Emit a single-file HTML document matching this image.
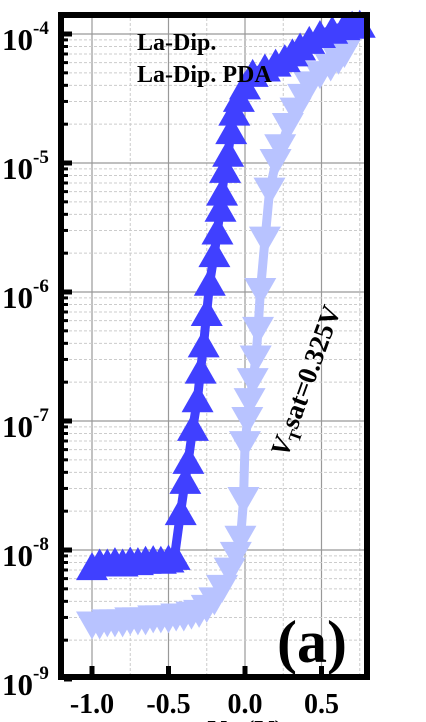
<!DOCTYPE html>
<html><head><meta charset="utf-8">
<style>
html,body{margin:0;padding:0;background:#fff;}
svg{display:block;font-family:"Liberation Serif",serif;font-weight:bold;}
</style></head>
<body>
<svg id="chart" width="426" height="722" viewBox="0 0 426 722" xmlns="http://www.w3.org/2000/svg">
<g id="grid"></g>
<g id="series"></g>
<rect x="61" y="15" width="306" height="662" fill="none" stroke="#000" stroke-width="6"/>
<g id="axes"></g>
<text x="137" y="50" font-size="24">La-Dip.</text>
<text x="137" y="82" font-size="24">La-Dip. PDA</text>
<text transform="translate(287,458) rotate(-70)" font-size="27"><tspan font-style="italic">V</tspan><tspan font-size="17" dy="6">T</tspan><tspan dy="-6">sat=0.325V</tspan></text>
<text x="277" y="662" font-size="60">(a)</text>
<text x="245" y="740" font-size="28" text-anchor="middle"><tspan font-style="italic">V</tspan><tspan font-size="17" dy="6">G</tspan><tspan dy="-6"> (V)</tspan></text>
</svg>
<script>
const xTicks=[-1.0,-0.5,0.0,0.5];
const xTickLabels=["-1.0","-0.5","0.0","0.5"];
const yDecades=[-4,-5,-6,-7,-8,-9];
const yTickLabels=["-4","-5","-6","-7","-8","-9"];
const vgBlue=[-1.0,-0.95,-0.9,-0.85,-0.8,-0.75,-0.7,-0.65,-0.6,-0.55,-0.5,-0.46,-0.42,-0.39,-0.37,-0.34,-0.31,-0.29,-0.27,-0.25,-0.23,-0.2,-0.18,-0.16,-0.15,-0.13,-0.11,-0.09,-0.07,-0.04,0.0,0.05,0.13,0.2,0.26,0.31,0.36,0.42,0.49,0.57,0.65,0.7,0.75];
const idBlue=[7.5e-9,8e-9,8e-9,8.2e-9,8e-9,8.3e-9,8.2e-9,8.4e-9,8.5e-9,8.4e-9,8.6e-9,9e-9,2e-8,3.5e-8,5e-8,9e-8,1.5e-7,2.5e-7,4e-7,7e-7,1.2e-6,2e-6,3e-6,4.5e-6,6e-6,9e-6,1.2e-5,1.8e-5,2.5e-5,3.2e-5,4e-5,5e-5,5.5e-5,6e-5,6.5e-5,7.2e-5,8e-5,9e-5,1e-4,1.08e-4,1.15e-4,1.18e-4,1.2e-4];
const vgLight=[-1.0,-0.95,-0.9,-0.85,-0.8,-0.75,-0.7,-0.65,-0.6,-0.55,-0.5,-0.45,-0.4,-0.35,-0.3,-0.25,-0.2,-0.15,-0.1,-0.06,-0.03,-0.01,0.0,0.015,0.03,0.05,0.07,0.085,0.1,0.13,0.16,0.2,0.23,0.28,0.33,0.38,0.42,0.49,0.56,0.61,0.65];
const idLight=[2.6e-9,2.6e-9,2.7e-9,2.7e-9,2.7e-9,2.8e-9,2.8e-9,2.8e-9,2.9e-9,2.9e-9,2.9e-9,3e-9,3e-9,3.1e-9,3.2e-9,3.5e-9,4e-9,5e-9,6.8e-9,9e-9,1.2e-8,2.4e-8,6.5e-8,1e-7,1.4e-7,2e-7,3e-7,5e-7,1e-6,2.5e-6,6e-6,1e-5,1.3e-5,1.9e-5,2.5e-5,3.2e-5,4e-5,4.8e-5,5.5e-5,6.2e-5,7e-5];

const NS="http://www.w3.org/2000/svg";
function X(v){return 92+(v+1)*153;}
function Y(i){return 34+(-4-Math.log10(i))*129;}
function YL(l){return 34+(-4-l)*129;}
function mk(tag,attrs,parent){const e=document.createElementNS(NS,tag);for(const k in attrs)e.setAttribute(k,attrs[k]);parent.appendChild(e);return e;}
const grid=document.getElementById('grid'),axes=document.getElementById('axes'),series=document.getElementById('series');
for(let v=-1.25;v<=0.76;v+=0.25){const x=X(v);if(x<64||x>364)continue;
 const major=xTicks.some(t=>Math.abs(t-v)<1e-6);
 const l=mk('line',{x1:x,x2:x,y1:18,y2:674,stroke:major?'#999':'#ccc','stroke-width':major?1.2:1,'stroke-dasharray':major?'':'3,2'},grid);
 
 }
for(let d=-9;d<-3;d++){for(let m=1;m<10;m++){const y=YL(d+Math.log10(m));if(y<18||y>674)continue;
 const l=mk('line',{x1:64,x2:364,y1:y,y2:y,stroke:m==1?'#999':'#ccc','stroke-width':m==1?1.2:1,'stroke-dasharray':m==1?'':'3,2'},grid);
 
 }}
function draw(vs,is,color,up,name){
 let d='';vs.forEach((v,k)=>{d+=(k?'L':'M')+X(v)+','+Y(is[k]);});
 const p=mk('path',{d:d,fill:'none',stroke:color,'stroke-width':9,'stroke-linejoin':'round'},series);
 
 
 vs.forEach((v,k)=>{const x=X(v),y=Y(is[k]);const w=16,h=14;
  const pts=up?`${x},${y-h} ${x-w},${y+h} ${x+w},${y+h}`:`${x},${y+h} ${x-w},${y-h} ${x+w},${y-h}`;
  const t=mk('polygon',{points:pts,fill:color},series);
  
  });
}
draw(vgLight,idLight,'#b8c3ff',false,'la-dip-pda');
draw(vgBlue,idBlue,'#4040ff',true,'la-dip');
xTicks.forEach((v,k)=>{const x=X(v);
 const t=mk('line',{x1:x,x2:x,y1:666,y2:674,stroke:'#000','stroke-width':5},axes);
 
 
 const tx=mk('text',{x:x,y:713,'font-size':28,'text-anchor':'middle'},axes);tx.textContent=xTickLabels[k];
 
 });
yDecades.forEach((d,k)=>{const y=YL(d);
 const t=mk('line',{x1:64,x2:72,y1:y,y2:y,stroke:'#000','stroke-width':5},axes);
 
 
 const tx=mk('text',{x:2,y:y+16,'font-size':31},axes);
 
 
 tx.innerHTML='10<tspan font-size="19" dy="-16">'+yTickLabels[k]+'</tspan>';
 for(let m=2;m<10;m++){const ym=YL(d+Math.log10(m));if(ym<18||ym>674)continue;
  const mt=mk('line',{x1:64,x2:68,y1:ym,y2:ym,stroke:'#000','stroke-width':3},axes);
  
  }});
</script>
</body></html>
